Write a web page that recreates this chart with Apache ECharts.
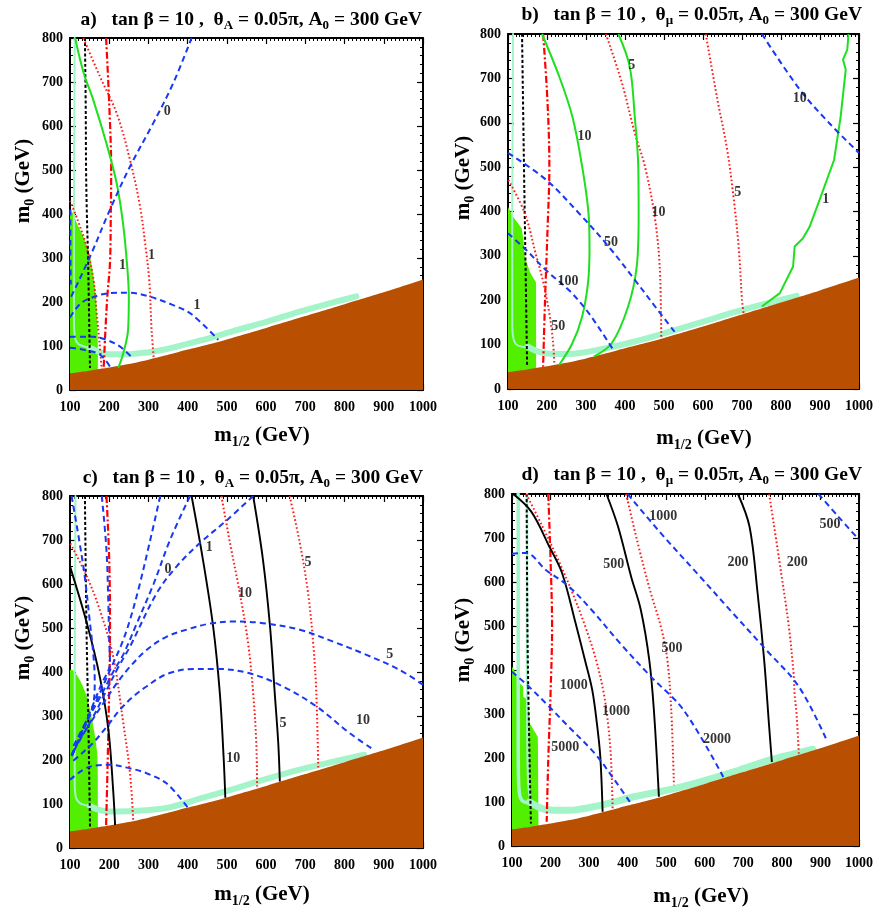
<!DOCTYPE html>
<html><head><meta charset="utf-8">
<script src="https://cdn.jsdelivr.net/npm/echarts@6/dist/echarts.min.js"></script>
<style>html,body{margin:0;padding:0;background:#fff}#c{width:876px;height:912px}</style>
</head><body><div id="c"></div>
<script>
// ---------- shared ----------
const xTicks = [100,200,300,400,500,600,700,800,900,1000];
const yTicks = [0,100,200,300,400,500,600,700,800];
const brownEdge = [[100,38],[150,44],[200,51],[250,59],[300,69],[350,80],[400,92],[450,103],[500,115],[600,141],[700,168],[800,195],[900,222],[1000,251]];

// ---------- panel a ----------
const a_green = [[100,405],[104,405],[117,380],[134,348],[147,318],[159,265],[166,212],[170,151],[171,90],[171,0]];
const a_lightLine = [[112,800],[111,600],[110,400],[110,250],[110,160],[113,118],[122,104],[140,98],[160,92]];
const a_band = [[150,96],[160,92],[180,85],[200,81],[245,81],[300,86],[346,93],[431,112],[516,134],[601,155],[686,178],[771,199],[830,213]];
const a_blackDash = [[138,800],[140,650],[141,500],[143,400],[146,300],[149,150],[151,50]];
const a_redDashDot = [[192,800],[200,650],[205,500],[204,400],[202,290],[195,210],[190,130],[186,53]];
const a_redDot1 = [[134,800],[176,713],[219,629],[253,523],[278,420],[292,330],[302,250],[308,136],[314,68]];
const a_redDotL = [[100,430],[120,385],[142,326],[160,250],[168,175],[175,110],[181,45]];
const a_green1 = [[113,800],[135,720],[159,660],[193,560],[219,470],[235,380],[245,290],[250,212],[248,136],[236,84],[223,50]];
const a_blue0 = [[103,212],[151,303],[202,410],[253,508],[312,606],[363,697],[410,800]];
const a_blueEdge = [[101,410],[101,330],[102,240]];
const a_blue1 = [[100,165],[125,195],[150,208],[200,220],[250,221],[300,213],[360,194],[410,172],[478,114]];
const a_blueLow1 = [[100,121],[159,121],[193,114],[227,99],[260,72]];
const a_blueLow2 = [[100,96],[138,91],[177,80],[202,53]];
const a_labels = [[348,633,'0'],[424,193,'1'],[308,305,'1'],[234,284,'1']];

// ---------- panel b ----------
const b_green = [[100,410],[113,388],[126,373],[135,362],[139,340],[143,298],[156,264],[165,250],[172,240],[172,0]];
const b_lightLine = [[113,800],[112,600],[111,400],[111,250],[111,140],[115,110],[125,98],[145,94],[160,92]];
const b_band = [[150,96],[172,86],[200,80],[256,79],[341,90],[425,107],[510,128],[594,150],[680,173],[763,193],[840,210]];
const b_blackDash = [[136,800],[141,500],[145,276],[149,50]];
const b_redDashDot = [[190,800],[201,652],[206,502],[201,351],[195,201],[190,50]];
const b_redDot50 = [[101,471],[143,396],[173,298],[189,246],[206,171],[215,110],[219,54]];
const b_redDot10 = [[351,800],[392,690],[425,577],[451,502],[476,389],[489,276],[493,111]];
const b_redDot5 = [[607,800],[637,652],[662,539],[679,427],[692,314],[700,201],[704,171]];
const b_green10 = [[187,800],[231,705],[265,614],[290,502],[307,389],[309,314],[305,238],[290,163],[265,103],[231,54]];
const b_green5 = [[383,800],[412,727],[425,614],[434,502],[435,389],[430,276],[408,186],[366,103],[320,73]];
const b_green1 = [[973,800],[970,765],[959,742],[966,720],[953,614],[936,516],[899,426],[873,365],[856,339],[835,321],[831,276],[797,216],[751,186]];
const b_blue50 = [[100,532],[197,472],[282,396],[358,321],[425,246],[484,178],[527,129]];
const b_blue100 = [[100,351],[146,314],[197,268],[256,223],[307,171],[370,88]];
const b_blue10 = [[751,800],[848,675],[924,599],[1000,532]];
const b_labels = [[296,569,'10'],[417,729,'5'],[915,428,'1'],[486,398,'10'],[689,443,'5'],[229,142,'50'],[364,330,'50'],[254,242,'100'],[848,654,'10']];

// ---------- panel c ----------
const c_green = [[100,405],[104,405],[125,382],[143,344],[155,298],[164,253],[170,207],[171,100],[171,0]];
const c_lightLine = [[114,800],[113,600],[112,400],[112,250],[112,150],[115,115],[125,102],[145,96],[160,92]];
const c_band = [[150,96],[170,88],[202,83],[261,84],[346,91],[431,112],[516,134],[601,157],[686,178],[771,196],[850,212]];
const c_blackDash = [[138,800],[142,503],[147,276],[151,49]];
const c_redDashDot = [[193,800],[200,655],[202,503],[198,276],[192,49]];
const c_redDotL = [[101,692],[143,617],[176,541],[210,435],[236,283],[253,170],[261,64]];
const c_redDot10 = [[486,800],[508,693],[533,579],[554,466],[567,352],[575,238],[577,140]];
const c_redDot5 = [[660,800],[686,693],[707,579],[720,466],[728,352],[733,178]];
const c_blackL = [[100,640],[143,511],[176,389],[198,268],[210,132],[215,52]];
const c_black10 = [[410,800],[439,655],[465,503],[482,352],[492,200],[496,114]];
const c_black5 = [[567,800],[592,655],[610,503],[622,352],[631,238],[635,151]];
const c_fan1 = [[104,800],[134,640],[151,511],[160,435],[163,380],[160,330],[135,275],[104,207]];
const c_fan2 = [[181,800],[193,677],[198,548],[200,470],[202,420],[180,372],[150,307],[120,242],[104,207]];
const c_fan0 = [[330,800],[302,690],[274,586],[250,510],[230,460],[205,410],[180,360],[150,300],[120,240],[104,210]];
const c_fan4 = [[406,800],[355,700],[313,600],[270,510],[236,440],[210,400],[175,340],[140,285],[105,225]];
const c_fan1b = [[567,800],[500,745],[431,693],[372,640],[321,579],[253,458],[219,404],[185,344],[159,298],[125,245],[104,212]];
const c_arc5 = [[1000,371],[940,405],[856,439],[771,469],[686,496],[592,511],[516,515],[457,510],[400,497],[346,480],[295,450],[253,412],[219,374],[185,329],[151,283],[120,240],[104,212]];
const c_arc10 = [[868,227],[813,261],[728,322],[643,367],[558,397],[474,407],[414,407],[346,395],[295,367],[261,344],[227,314],[194,276],[160,240],[130,215],[104,195]];
const c_arcLow = [[100,155],[151,185],[202,189],[253,181],[295,170],[346,147],[401,91]];
const c_labels = [[350,634,'0'],[455,684,'1'],[546,579,'10'],[707,649,'5'],[915,439,'5'],[847,290,'10'],[516,204,'10'],[643,284,'5']];

// ---------- panel d ----------
const d_green = [[100,408],[108,396],[116,373],[129,362],[129,339],[142,332],[146,279],[154,267],[167,248],[169,248],[169,0]];
const d_lightLine = [[116,800],[116,600],[116,400],[116,250],[117,150],[121,112],[132,100],[150,98]];
const d_lightLine2 = [[139,800],[139,600],[139,400],[140,250],[142,150],[146,112]];
const d_band = [[145,100],[170,88],[187,83],[247,81],[332,93],[417,112],[503,127],[588,146],[673,168],[759,193],[844,212],[880,220]];
const d_blackDash = [[138,800],[140,499],[144,271],[149,51]];
const d_redDashDot = [[194,800],[200,650],[204,499],[200,347],[194,195],[190,55]];
const d_redDot1000 = [[137,800],[179,726],[220,650],[257,575],[290,499],[318,423],[338,347],[350,271],[357,195],[361,85]];
const d_redDot500 = [[396,800],[426,689],[460,575],[486,499],[503,423],[513,309],[520,138]];
const d_redDot200 = [[767,800],[793,650],[818,499],[831,385],[833,345],[838,300],[844,210]];
const d_black1000 = [[103,800],[150,760],[197,680],[230,620],[265,506],[290,420],[308,355],[320,280],[329,203],[335,78]];
const d_black500 = [[345,800],[375,726],[409,612],[434,537],[456,423],[468,309],[481,112]];
const d_black200 = [[686,800],[716,726],[737,575],[754,423],[767,271],[774,191]];
const d_blue5000 = [[100,396],[144,362],[196,317],[247,271],[315,210],[366,150],[409,96]];
const d_blue2000 = [[100,664],[136,666],[187,628],[247,590],[306,537],[383,458],[460,385],[545,309],[648,157]];
const d_blue1000 = [[400,800],[486,711],[588,612],[673,529],[759,446],[844,362],[916,241]];
const d_blue500 = [[895,800],[946,749],[1000,696]];
const d_labels = [[492,749,'1000'],[925,732,'500'],[364,639,'500'],[686,644,'200'],[840,644,'200'],[515,449,'500'],[260,366,'1000'],[370,305,'1000'],[632,242,'2000'],[238,224,'5000']];

// ---------- rendering ----------
const FONT = 'Liberation Serif';
const COL = {brown:'#b94f00', green:'#52ef00', light:'#a4f4c9'};
const STY = {
  blueDash:  {color:'#1838f2', width:2,   type:[6,4]},
  redDot:    {color:'#ff1a1a', width:2,   type:[1.6,2.4]},
  redDashDot:{color:'#ff0000', width:2.2, type:[7,2.5,2,2.5]},
  blackDash: {color:'#000000', width:2,   type:[3,2.2]},
  greenSolid:{color:'#1ee01e', width:2,   type:'solid'},
  blackSolid:{color:'#000000', width:1.9, type:'solid'}
};
const grids = [
  {left:70, top:38, width:353, height:352},
  {left:508, top:34, width:355, height:355},
  {left:70, top:496, width:353, height:352},
  {left:512, top:494, width:352, height:352}
];
const panels = [
  {green:a_green, smoothGreen:0.25, light:[[a_lightLine,2],[a_band,6]], lines:[
    [a_blackDash,'blackDash'],[a_redDashDot,'redDashDot'],[a_redDot1,'redDot'],[a_redDotL,'redDot'],
    [a_green1,'greenSolid'],[a_blue0,'blueDash'],[a_blueEdge,'blueDash'],[a_blue1,'blueDash'],
    [a_blueLow1,'blueDash'],[a_blueLow2,'blueDash']], labels:a_labels},
  {green:b_green, smoothGreen:0, light:[[b_lightLine,2],[b_band,6]], lines:[
    [b_blackDash,'blackDash'],[b_redDashDot,'redDashDot'],[b_redDot50,'redDot'],[b_redDot10,'redDot'],[b_redDot5,'redDot'],
    [b_green10,'greenSolid'],[b_green5,'greenSolid'],[b_green1,'greenSolid',true],
    [b_blue50,'blueDash'],[b_blue100,'blueDash'],[b_blue10,'blueDash']], labels:b_labels},
  {green:c_green, smoothGreen:0.25, light:[[c_lightLine,2],[c_band,6]], lines:[
    [c_blackDash,'blackDash'],[c_redDashDot,'redDashDot'],[c_redDotL,'redDot'],[c_redDot10,'redDot'],[c_redDot5,'redDot'],
    [c_blackL,'blackSolid'],[c_black10,'blackSolid'],[c_black5,'blackSolid'],
    [c_fan1,'blueDash'],[c_fan2,'blueDash'],[c_fan0,'blueDash'],[c_fan4,'blueDash'],[c_fan1b,'blueDash'],
    [c_arc5,'blueDash'],[c_arc10,'blueDash'],[c_arcLow,'blueDash']], labels:c_labels},
  {green:d_green, smoothGreen:0, light:[[d_lightLine,3.5],[d_lightLine2,2.5],[d_band,7]], lines:[
    [d_blackDash,'blackDash'],[d_redDashDot,'redDashDot'],[d_redDot1000,'redDot'],[d_redDot500,'redDot'],[d_redDot200,'redDot'],
    [d_black1000,'blackSolid'],[d_black500,'blackSolid'],[d_black200,'blackSolid'],
    [d_blue5000,'blueDash'],[d_blue2000,'blueDash'],[d_blue1000,'blueDash'],[d_blue500,'blueDash']], labels:d_labels}
];

function axisCommon(showLabel, minorSplit){
  return {
    axisLine:{show:true, onZero:false, lineStyle:{color:'#000', width:2}},
    axisTick:{show:true, inside:true, length:6, lineStyle:{color:'#000', width:1.2}},
    minorTick:{show:true, splitNumber:minorSplit, length:3, lineStyle:{color:'#000', width:1}},
    splitLine:{show:false}, minorSplitLine:{show:false},
    axisLabel:{show:showLabel, color:'#000', fontFamily:FONT, fontWeight:'bold', fontSize:14, margin:7,
      showMinLabel:true, showMaxLabel:true, formatter:v=>String(v)}
  };
}
const xAxes = [], yAxes = [], series = [];
grids.forEach((g,i)=>{
  ['bottom','top'].forEach((pos,k)=>{
    xAxes.push(Object.assign({type:'value', gridIndex:i, position:pos, min:xTicks[0], max:xTicks[xTicks.length-1], interval:xTicks[1]-xTicks[0]}, axisCommon(k===0,10)));
  });
  ['left','right'].forEach((pos,k)=>{
    yAxes.push(Object.assign({type:'value', gridIndex:i, position:pos, min:yTicks[0], max:yTicks[yTicks.length-1], interval:yTicks[1]-yTicks[0]}, axisCommon(k===0,5)));
  });
});
xAxes.forEach(a=>{ a.axisLabel.margin = 10; });

panels.forEach((p,i)=>{
  const ax = {xAxisIndex:2*i, yAxisIndex:2*i, silent:true, animation:false, symbol:'none', showSymbol:false};
  series.push(Object.assign({type:'line', data:p.green, z:1, smooth:p.smoothGreen,
    lineStyle:{width:0}, areaStyle:{color:COL.green, opacity:1}}, ax));
  p.light.forEach(([d,w])=>{
    series.push(Object.assign({type:'line', data:d, z:2, smooth:0.3,
      lineStyle:{color:COL.light, width:w, cap:'round', join:'round'}}, ax));
  });
  series.push(Object.assign({type:'line', data:brownEdge, z:3, smooth:0.2,
    lineStyle:{width:0}, areaStyle:{color:COL.brown, opacity:1}}, ax));
  p.lines.forEach(([d,s,noSmooth])=>{
    series.push(Object.assign({type:'line', data:d, z:4, smooth:noSmooth?0:0.35,
      lineStyle:Object.assign({}, STY[s])}, ax));
  });
  series.push({type:'scatter', xAxisIndex:2*i, yAxisIndex:2*i, z:5, silent:true, animation:false,
    symbolSize:0, itemStyle:{color:'#000'}, data:p.labels.map(l=>({value:[l[0],l[1]], name:l[2]})),
    label:{show:true, position:'inside', formatter:'{b}', color:'#000', textBorderWidth:0, textBorderColor:'transparent',
      fontFamily:FONT, fontWeight:'bold', fontSize:14}});
});

const tStyle = {fontFamily:FONT, fontWeight:'bold', fontSize:19.5, lineHeight:24, fill:'#000', color:'#000'};
const tSub = {fontFamily:FONT, fontWeight:'bold', fontSize:13, lineHeight:13, verticalAlign:'bottom', fill:'#000', color:'#000'};
const nStyle = {fontFamily:FONT, fontWeight:'bold', fontSize:21, lineHeight:26, fill:'#000', color:'#000'};
const nSub = {fontFamily:FONT, fontWeight:'bold', fontSize:14, lineHeight:14, verticalAlign:'bottom', fill:'#000', color:'#000'};
const titles = [
  ['a)','A', 422, 20], ['b)','μ', 862, 15], ['c)','A', 423, 478], ['d)','μ', 862, 475]
];
const graphics = [];
titles.forEach(([tag,sub,x,y])=>{
  graphics.push({type:'text', x:x, y:y, silent:true, style:{
    text:'{t|'+tag+'   tan β = 10 ,  θ}{s|'+sub+'}{t| = 0.05π, A}{s|0}{t| = 300 GeV}',
    rich:{t:tStyle, s:tSub}, align:'right', verticalAlign:'middle'}});
});
const xNames = [[262,436],[704,439],[262,895],[701,897]];
xNames.forEach(([x,y])=>{
  graphics.push({type:'text', x:x, y:y, silent:true, style:{
    text:'{t|m}{s|1/2}{t| (GeV)}', rich:{t:nStyle, s:nSub}, align:'center', verticalAlign:'middle'}});
});
const yNames = [[24,181],[464,178],[24,638],[464,640]];
yNames.forEach(([x,y])=>{
  graphics.push({type:'text', x:x, y:y, rotation:Math.PI/2, silent:true, style:{
    text:'{t|m}{s|0}{t| (GeV)}', rich:{t:nStyle, s:nSub}, align:'center', verticalAlign:'middle'}});
});

const chart = echarts.init(document.getElementById('c'), null, {renderer:'canvas'});
chart.setOption({
  animation:false,
  backgroundColor:'#ffffff',
  grid:grids.map(g=>Object.assign({containLabel:false}, g)),
  xAxis:xAxes, yAxis:yAxes, series:series, graphic:graphics
});
</script></body></html>
